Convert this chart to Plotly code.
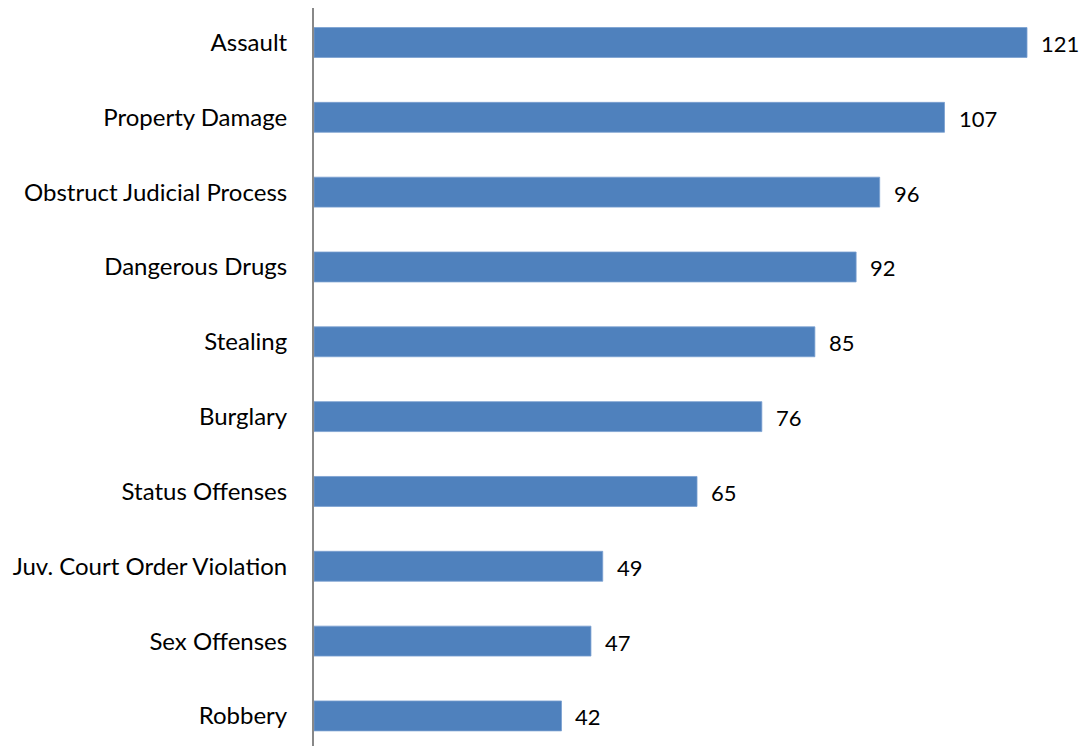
import plotly.graph_objects as go

categories = ["Assault", "Property Damage", "Obstruct Judicial Process", "Dangerous Drugs",
              "Stealing", "Burglary", "Status Offenses", "Juv. Court Order Violation",
              "Sex Offenses", "Robbery"]
values = [121, 107, 96, 92, 85, 76, 65, 49, 47, 42]

FONT = "Lato"
BAR_COLOR = "#4F81BD"

fig = go.Figure()
fig.add_trace(go.Bar(
    x=values, y=categories, orientation="h",
    marker=dict(color=BAR_COLOR, line=dict(color="#7A9FD0", width=0.8)),
    width=0.4, hoverinfo="skip",
))

for c, v in zip(categories, values):
    fig.add_annotation(x=v, y=c, text=str(v), showarrow=False, xanchor="left",
                       xshift=12, yshift=-1, font=dict(family=FONT, size=22, color="#000000"))

fig.update_layout(
    width=1080, height=746,
    margin=dict(l=306, r=0, t=0, b=8, autoexpand=False),
    paper_bgcolor="white", plot_bgcolor="white",
    showlegend=False,
    font=dict(family=FONT, size=24, color="#000000"),
    xaxis=dict(range=[0, 131.35], visible=False, showgrid=False, zeroline=False, automargin=False),
    yaxis=dict(
        categoryorder="array", categoryarray=categories,
        range=[9.402, -0.461], showgrid=False, zeroline=False,
        showline=True, linecolor="#888888", linewidth=2,
        ticks="", ticklabelstandoff=20, automargin=False,
        tickfont=dict(family=FONT, size=24, color="#000000"),
    ),
)

fig.write_html("out.html")
